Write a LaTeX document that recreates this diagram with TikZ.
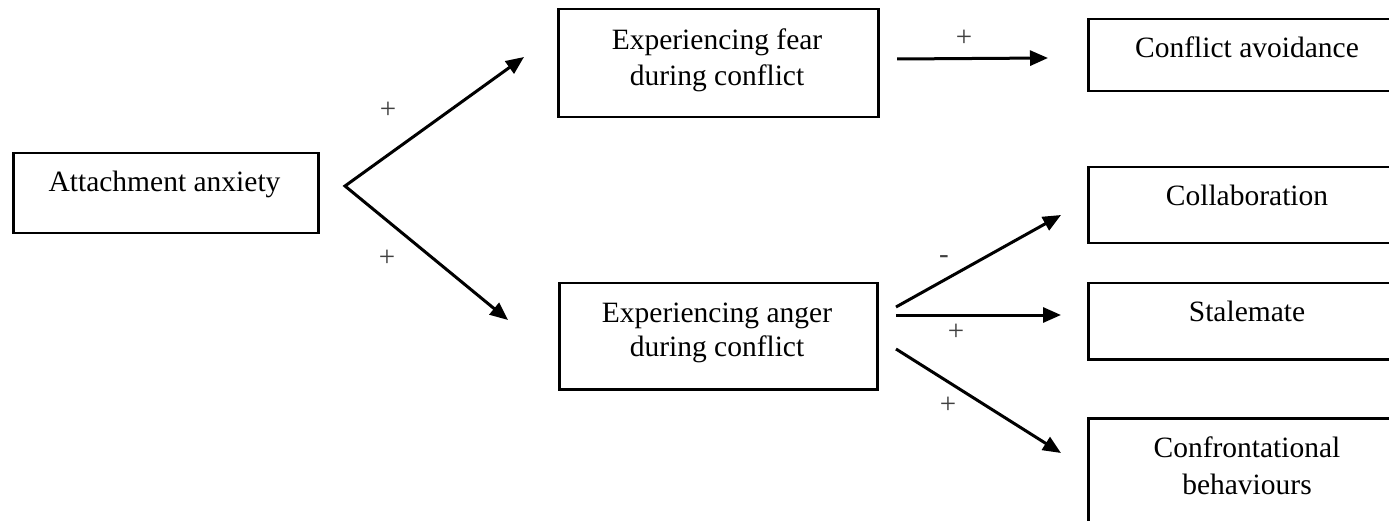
\documentclass[tikz,border=0pt]{standalone}
\usepackage{fontspec}
\setmainfont{Liberation Serif}
\usetikzlibrary{arrows.meta}
\begin{document}
\begin{tikzpicture}[x=1pt,y=-1pt,
  >={Triangle[length=18pt,width=15pt]},
  box/.style={draw=black, line width=2.5pt, inner sep=0pt, anchor=north west},
  lbl/.style={font=\fontsize{29.5}{35}\selectfont, anchor=base, inner sep=0pt},
  sign/.style={font=\fontsize{29}{35}\selectfont, text=black!75, inner sep=0pt},
  link/.style={line width=3pt, ->}
]
\useasboundingbox (0,0) rectangle (1389,521);

% boxes
\node[box, minimum width=305pt, minimum height=80pt]  (att)  at (12,152)  {};
\node[box, minimum width=320pt, minimum height=108pt] (fear) at (557,8)   {};
\node[box, minimum width=318pt, minimum height=106pt] (ang)  at (558,282) {};
\node[box, minimum width=320pt, minimum height=72pt]  (ca)   at (1087,18)  {};
\node[box, minimum width=320pt, minimum height=76pt]  (col)  at (1087,166) {};
\node[box, minimum width=320pt, minimum height=76pt]  (sta)  at (1087,282) {};
\node[box, minimum width=320pt, minimum height=130pt] (con)  at (1087,417) {};

% box texts
\node[lbl] (attT)   at (164.5,192) {Attachment anxiety};
\node[lbl] (fearT1) at (717,50)  {Experiencing fear};
\node[lbl] (fearT2) at (717,86)  {during conflict};
\node[lbl] (angT1)  at (717,322) {Experiencing anger};
\node[lbl] (angT2)  at (717,356) {during conflict};
\node[lbl] (caT)    at (1247,58)  {Conflict avoidance};
\node[lbl] (colT)   at (1247,206) {Collaboration};
\node[lbl] (staT)   at (1247,321) {Stalemate};
\node[lbl] (conT1)  at (1247,457) {Confrontational};
\node[lbl] (conT2)  at (1247,494) {behaviours};

% connector end points
\coordinate (v)      at (345,186);
\coordinate (fearIn) at (524,57);
\coordinate (angIn)  at (508,320);
\coordinate (fearOut) at (897,59);
\coordinate (caIn)    at (1048,58);
\coordinate (angOutA) at (896,307);
\coordinate (colIn)   at (1061,215);
\coordinate (angOutB) at (896,315);
\coordinate (staIn)   at (1061,315);
\coordinate (angOutC) at (896,349);
\coordinate (conIn)   at (1061,453);

% connectors
\draw[line width=3pt, <->] (fearIn) -- (v) -- (angIn);
\draw[link] (fearOut) -- (caIn);
\draw[link] (angOutA) -- (colIn);
\draw[link] (angOutB) -- (staIn);
\draw[link] (angOutC) -- (conIn);

% signs
\node[sign] (s1) at (388,110) {+};
\node[sign] (s2) at (387,258) {+};
\node[sign] (s3) at (964,38)  {+};
\node[sign] (s4) at (944,260) {-};
\node[sign] (s5) at (956,332) {+};
\node[sign] (s6) at (948,405) {+};
\end{tikzpicture}
\end{document}
